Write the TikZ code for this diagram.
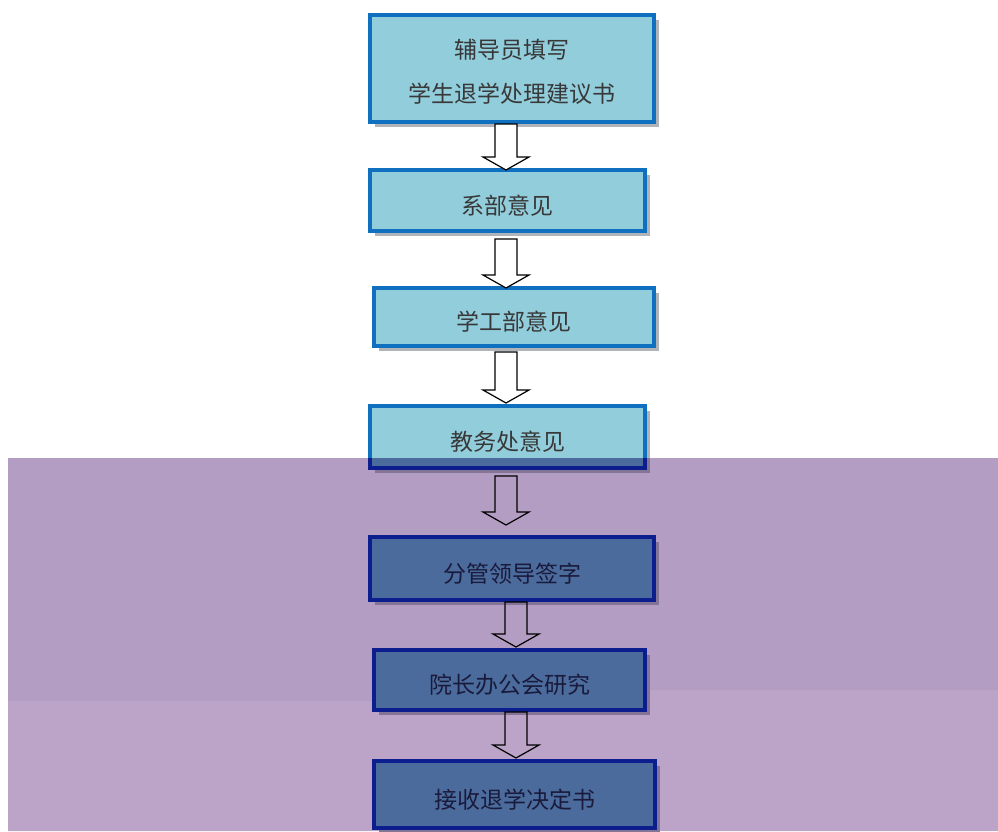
\documentclass[tikz,border=0pt]{standalone}
\usepackage{xcolor}
\usepackage{fontspec}
\setmainfont{Noto Sans CJK SC}
\usepackage{tikz}
\usetikzlibrary{calc}
\usetikzlibrary{shadows}

\definecolor{kuangfill}{HTML}{92CDDC}
\definecolor{kuangline}{HTML}{1070C0}
\definecolor{kuangtext}{HTML}{383838}
\definecolor{kuangshadow}{HTML}{B0B4B8}
\definecolor{ankuangfill}{HTML}{4A6B9B}
\definecolor{ankuangline}{HTML}{0C1D8E}
\definecolor{ankuangtext}{HTML}{1A1A3C}
\definecolor{ankuangshadow}{HTML}{847496}
\definecolor{zishang}{HTML}{B49DC2}
\definecolor{zixia}{HTML}{BCA4C8}

\tikzset{>=latex}
\tikzstyle{kuangji} = [rectangle, line width=4pt, inner sep=0, align=center, font=\fontsize{23}{44}\selectfont]
\tikzstyle{kuang} = [kuangji, draw=kuangline, fill=kuangfill, text=kuangtext, drop shadow={shadow xshift=5pt, shadow yshift=-5pt, fill=kuangshadow, opacity=1}]
\tikzstyle{ankuang} = [kuangji, draw=ankuangline, fill=ankuangfill, text=ankuangtext, drop shadow={shadow xshift=5pt, shadow yshift=-5pt, fill=ankuangshadow, opacity=1}]
\tikzstyle{jiantou} = [draw=black, line width=1.2pt, line join=miter, fill=white]
\tikzstyle{anjiantou} = [jiantou, fill=none]

% text sits a little below the middle of its box
\newcommand{\xiayi}[2][5pt]{\raisebox{-#1}[\height][\depth]{#2}}

% hollow block arrow: [style] from, to, shaft x, gap at top, gap at tip
\newcommand{\kongjt}[6][jiantou]{%
  \draw[#1] let \p1 = (#2.south), \p2 = (#3.north) in
    (#4pt-11pt, \y1-#5pt) -- (#4pt+11pt, \y1-#5pt)
    -- (#4pt+11pt, \y2+#6pt+13pt) -- (#4pt+23pt, \y2+#6pt+13pt)
    -- (#4pt, \y2+#6pt)
    -- (#4pt-23pt, \y2+#6pt+13pt) -- (#4pt-11pt, \y2+#6pt+13pt) -- cycle;
}

\begin{document}
\begin{tikzpicture}[x=1pt, y=-1pt]
\useasboundingbox (0,0) rectangle (998,831);
\fill[white] (0,0) rectangle (998,831);
% purple panel behind the lower half
\fill[zishang] (8,458) rectangle (998,831);
\fill[zixia] (8,701) -- (563,701) -- (563,690) -- (998,690) -- (998,831) -- (8,831) -- cycle;

\node [kuang, minimum width=284pt, minimum height=107pt] (fudaoyuan) at (512,68.5) {\xiayi[3.5pt]{辅导员填写}\\\xiayi[3.5pt]{学生退学处理建议书}};
\node [kuang, minimum width=275pt, minimum height=61pt] (xibu) at (507.5,200.5) {\xiayi{系部意见}};
\node [kuang, minimum width=280pt, minimum height=58pt] (xuegong) at (514,317) {\xiayi{学工部意见}};
\node [kuang, minimum width=275pt, minimum height=62pt] (jiaowu) at (507.5,437) {\xiayi{教务处意见}};
\begin{scope}
\clip (8,458) rectangle (998,831);
\node [ankuang, minimum width=275pt, minimum height=62pt] (jiaowu-an) at (507.5,437) {\xiayi{教务处意见}};
\end{scope}
\node [ankuang, minimum width=284pt, minimum height=63pt] (fenguan) at (512,568.5) {\xiayi{分管领导签字}};
\node [ankuang, minimum width=271pt, minimum height=60pt] (yuanzhang) at (509.5,680) {\xiayi{院长办公会研究}};
\node [ankuang, minimum width=281pt, minimum height=67pt] (jieshou) at (514.5,794.5) {\xiayi{接收退学决定书}};

\kongjt{fudaoyuan}{xibu}{506}{0}{-2}
\kongjt{xibu}{xuegong}{506}{6}{-2}
\kongjt{xuegong}{jiaowu}{506}{4}{1}
\kongjt[anjiantou]{jiaowu}{fenguan}{506}{6}{10}
\kongjt[anjiantou]{fenguan}{yuanzhang}{516}{0}{1}
\kongjt[anjiantou]{yuanzhang}{jieshou}{516}{0}{1}
\end{tikzpicture}
\end{document}
